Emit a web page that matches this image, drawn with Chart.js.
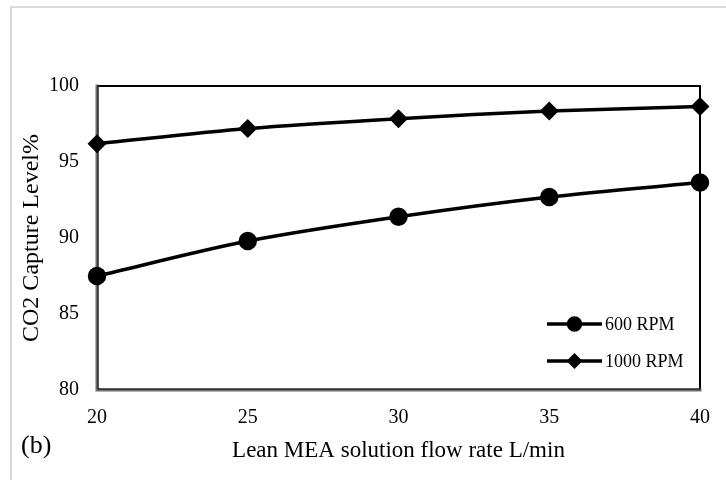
<!DOCTYPE html>
<html>
<head>
<meta charset="utf-8">
<script src="https://cdn.jsdelivr.net/npm/chart.js@4/dist/chart.umd.min.js"></script>
<style>
  html, body { margin: 0; padding: 0; background: #fff; }
  #wrap { width: 726px; height: 480px; position: relative; }
</style>
</head>
<body>
<div id="wrap"><canvas id="chart"></canvas></div>
<script>
// ── Data ──────────────────────────────────────────────────────────────────────
const flowRates = [20, 25, 30, 35, 40];
const rpm600    = [87.5, 89.8, 91.4, 92.7, 93.65];
const rpm1000   = [96.2, 97.2, 97.85, 98.35, 98.65];
const yTicks    = [80, 85, 90, 95, 100];

const SERIF = "'Liberation Serif', 'Times New Roman', serif";

const toPoints = ys => flowRates.map((x, i) => ({ x, y: ys[i] }));

// ── Frame, panel label and in-plot legend ─────────────────────────────────────
const framePlugin = {
  id: 'frame',
  beforeDraw(chart) {
    const ctx = chart.ctx;
    ctx.save();
    ctx.strokeStyle = '#d9d9d9';
    ctx.lineWidth = 2;
    ctx.beginPath();
    ctx.moveTo(11, 480); ctx.lineTo(11, 7); ctx.lineTo(726, 7);
    ctx.stroke();
    ctx.restore();
  },
  beforeDatasetsDraw(chart) {
    const { ctx, chartArea: a } = chart;
    ctx.save();
    ctx.lineCap = 'square';
    // top + right: plain black
    ctx.strokeStyle = '#000';
    ctx.lineWidth = 2;
    ctx.beginPath();
    ctx.moveTo(a.left, a.top); ctx.lineTo(a.right, a.top); ctx.lineTo(a.right, a.bottom);
    ctx.stroke();
    // left + bottom: grey shadowed edge
    ctx.strokeStyle = '#6e6e6e';
    ctx.lineWidth = 3;
    ctx.beginPath();
    ctx.moveTo(a.left, a.top); ctx.lineTo(a.left, a.bottom); ctx.lineTo(a.right, a.bottom);
    ctx.stroke();
    ctx.strokeStyle = '#000';
    ctx.lineWidth = 1;
    ctx.beginPath();
    ctx.moveTo(a.left + 1, a.top); ctx.lineTo(a.left + 1, a.bottom - 1); ctx.lineTo(a.right, a.bottom - 1);
    ctx.stroke();
    ctx.restore();
  },
  afterDraw(chart) {
    const ctx = chart.ctx;
    ctx.save();
    ctx.fillStyle = '#000';
    ctx.font = '26px ' + SERIF;
    ctx.textBaseline = 'middle';
    ctx.textAlign = 'left';
    ctx.fillText('(b)', 21, 446);

    // legend inside plot
    const rows = [324, 361];
    chart.data.datasets.forEach((ds, i) => {
      const y = rows[i];
      ctx.strokeStyle = '#000';
      ctx.lineWidth = 3.5;
      ctx.beginPath();
      ctx.moveTo(547, y); ctx.lineTo(602, y);
      ctx.stroke();
      Chart.helpers.drawPoint(ctx, {
        pointStyle: ds.pointStyle, radius: ds.legendRadius, borderWidth: 1
      }, 574.5, y);
      ctx.fillStyle = '#000';
      ctx.fill();
      ctx.font = '18px ' + SERIF;
      ctx.textBaseline = 'middle';
      ctx.fillText(ds.label, 605, y + 1);
    });
    ctx.restore();
  }
};

// ── Chart ─────────────────────────────────────────────────────────────────────
new Chart(document.getElementById('chart').getContext('2d'), {
  type: 'line',
  data: {
    datasets: [
      {
        label: '600 RPM', data: toPoints(rpm600),
        borderColor: '#000', backgroundColor: '#000', borderWidth: 3.5,
        pointStyle: 'circle', pointRadius: 7.5, legendRadius: 6, tension: 0.3,
      },
      {
        label: '1000 RPM', data: toPoints(rpm1000),
        borderColor: '#000', backgroundColor: '#000', borderWidth: 3.5,
        pointStyle: 'rectRot', pointRadius: 7, legendRadius: 5.5, tension: 0.3,
      }
    ]
  },
  options: {
    responsive: true, maintainAspectRatio: false, animation: false,
    clip: false,
    layout: { padding: { top: 86, right: 18, left: 0, bottom: 0 } },
    plugins: { legend: { display: false }, tooltip: { enabled: false } },
    scales: {
      x: {
        type: 'linear', min: 20, max: 40,
        border: { display: false },
        grid: { display: false, drawTicks: false },
        ticks: { stepSize: 5, padding: 16, color: '#000', font: { family: SERIF, size: 20 } },
        title: {
          display: true, text: 'Lean MEA solution flow rate L/min', color: '#000',
          font: { family: SERIF, size: 23 }, padding: { top: 0, bottom: 15 }
        },
        afterFit(scale) { scale.height = 90; }
      },
      y: {
        min: 80, max: 100,
        border: { display: false },
        grid: { display: false, drawTicks: false },
        afterBuildTicks(scale) { scale.ticks = yTicks.map(v => ({ value: v })); },
        ticks: { padding: 18, color: '#000', font: { family: SERIF, size: 20 } },
        title: {
          display: true, text: 'CO2 Capture Level%', color: '#000',
          font: { family: SERIF, size: 24 }, padding: { top: 17, bottom: 0 }
        },
        afterFit(scale) { scale.width = 97; }
      }
    }
  },
  plugins: [framePlugin]
});
</script>
</body>
</html>
